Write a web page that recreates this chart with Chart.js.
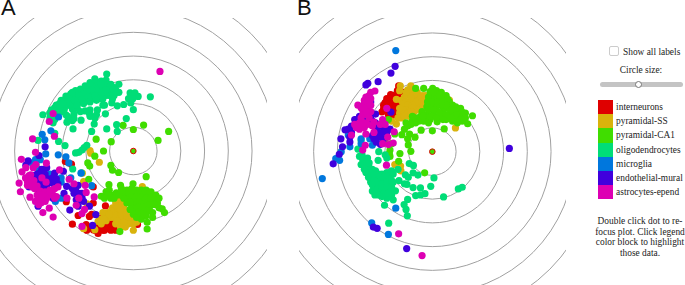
<!DOCTYPE html>
<html>
<head>
<meta charset="utf-8">
<script src="https://cdn.jsdelivr.net/npm/chart.js@4"></script>
<style>
body { margin: 0; width: 685px; height: 285px; overflow: hidden; background: #fff; position: relative; font-family: "Liberation Serif", serif; font-size: 9.4px; color: #222; }
canvas { position: absolute; top: 18px; }
#chartA { left: 0; }
#chartB { left: 299px; }
.panel { position: absolute; top: -5px; font: 22px "Liberation Sans", sans-serif; color: #111; }
#showBox { position: absolute; left: 609px; top: 46px; width: 8px; height: 8px; border: 1px solid #ccc; border-radius: 2px; background: #fff; }
#showLabel { position: absolute; left: 623px; top: 47px; white-space: nowrap; }
#sizeLabel { position: absolute; left: 598px; width: 86px; top: 65px; text-align: center; }
#track { position: absolute; left: 600px; top: 82px; width: 83px; height: 5px; background: #c4c4c4; border-radius: 3px; }
#thumb { position: absolute; left: 635px; top: 81px; width: 5px; height: 5px; background: #fff; border: 1px solid #777; border-radius: 50%; }
#legend { position: absolute; left: 598px; top: 100px; }
.row { height: 14.2px; display: flex; align-items: center; white-space: nowrap; }
.swatch { width: 14.6px; height: 14.2px; margin-right: 3.5px; }
#note { position: absolute; left: 590px; width: 100px; top: 216px; line-height: 10.6px; text-align: center; white-space: nowrap; }
</style>
</head>
<body>
<div class="panel" style="left:1px">A</div>
<div class="panel" style="left:297px">B</div>
<canvas id="chartA" width="267" height="267"></canvas>
<canvas id="chartB" width="267" height="267"></canvas>
<div id="showBox"></div>
<div id="showLabel">Show all labels</div>
<div id="sizeLabel">Circle size:</div>
<div id="track"></div>
<div id="thumb"></div>
<div id="legend"></div>
<div id="note">Double click dot to re-<br>focus plot. Click legend<br>color block to highlight<br>those data.</div>
<script>
let categories = ['interneurons', 'pyramidal-SS', 'pyramidal-CA1', 'oligodendrocytes', 'microglia', 'endothelial-mural', 'astrocytes-epend'];
let colors = ['#df0000', '#d9b30c', '#40dd00', '#00dd77', '#0077dd', '#4000dd', '#dd00b3'];
let ringRadii = [74, 148, 222, 296, 370, 444, 518];

// values are [x, y], three units to a pixel
let focusA = [[400, 453]];
let interneuronsA = [[188,486],[207,494],[275,565],[275,615],[313,624],[191,611],[228,654],[263,657],[270,650],[210,681],[253,682],[255,700],[290,710],[413,682],[310,690],[325,680],[335,670],[320,695],[300,695],[285,690],[330,690],[345,690],[325,655],[340,650],[330,700],[270,690],[280,700],[295,680],[305,700],[315,685],[330,675],[345,670],[310,700],[275,698],[265,690],[300,662],[320,665],[345,700]];
let pyramidalSSA = [[265,452],[267,460],[294,488],[241,522],[245,548],[428,564],[471,607],[256,618],[352,600],[360,610],[345,615],[335,630],[320,645],[310,655],[290,672],[300,680],[280,698],[355,625],[370,630],[385,640],[395,655],[405,665],[345,640],[360,645],[375,650],[350,660],[365,665],[385,670],[345,680],[375,690],[400,700],[245,695],[330,660],[355,680],[315,670],[340,660],[355,650],[350,670],[365,655],[380,660],[395,665],[410,675],[400,680],[385,680],[370,675],[360,690],[350,625],[365,620],[375,640],[395,645],[340,650],[330,640],[305,645],[295,665],[310,665],[325,650],[360,635]];
let pyramidalCA1A = [[368,373],[400,386],[432,372],[510,392],[477,420],[284,416],[331,424],[307,453],[280,469],[258,490],[264,500],[330,498],[335,513],[354,520],[440,533],[261,541],[324,558],[399,555],[360,560],[363,570],[300,594],[315,580],[325,575],[340,590],[330,600],[347,583],[380,575],[395,570],[410,575],[425,575],[440,575],[455,580],[470,590],[480,600],[375,590],[390,590],[405,590],[420,590],[435,590],[450,595],[465,605],[475,615],[385,605],[400,605],[415,605],[430,605],[445,610],[460,620],[395,620],[410,620],[425,620],[440,625],[450,635],[405,635],[420,635],[435,640],[430,655],[415,650],[460,645],[460,660],[490,633],[497,645],[480,630],[443,675],[443,696],[358,704],[400,650],[370,600],[365,580],[380,615],[390,635],[410,660],[425,665],[440,655],[455,610],[468,620],[445,580],[430,580],[415,582],[400,582],[385,582],[395,597],[410,597],[425,597],[440,600],[455,600],[405,612],[420,612],[435,615],[450,620],[390,612],[415,628],[430,628],[445,640],[418,642],[432,648],[340,600],[355,590],[320,590],[310,600]];
let oligodendrocytesA = [[317,213],[283,235],[295,240],[315,232],[320,245],[355,245],[340,255],[345,270],[330,265],[310,255],[300,260],[285,250],[270,250],[275,265],[290,270],[260,258],[250,262],[240,265],[255,280],[240,280],[225,275],[230,290],[215,285],[205,290],[190,282],[200,300],[185,300],[215,305],[170,305],[165,318],[180,315],[195,310],[155,318],[145,325],[140,335],[118,340],[235,300],[250,295],[270,290],[285,285],[300,280],[315,270],[325,280],[270,275],[355,270],[340,280],[390,272],[405,272],[415,283],[385,290],[398,290],[392,303],[453,284],[333,303],[310,310],[305,310],[350,312],[370,308],[400,324],[288,325],[313,337],[285,340],[265,345],[263,335],[250,328],[235,330],[225,320],[210,322],[215,352],[210,358],[237,357],[193,363],[150,365],[155,355],[140,350],[212,384],[378,352],[348,371],[350,392],[317,384],[278,369],[270,392],[103,420],[155,398],[167,423],[187,436],[220,459],[230,457],[240,450],[247,442],[255,435],[211,509],[238,521],[180,330],[190,340],[165,330],[160,310],[175,295],[190,295],[205,275],[220,265],[235,260],[250,250],[265,240],[280,228],[300,235],[305,250],[330,245],[335,260],[320,258],[300,270],[285,262],[270,262],[255,268],[245,275],[230,280],[215,295],[200,310],[185,322],[170,320],[150,335],[225,300],[240,292],[260,285],[280,280],[295,290],[315,280],[300,245],[315,262],[345,262],[210,270],[195,290],[180,305],[160,328],[225,310],[245,305],[265,300],[285,295],[305,290],[335,290],[265,325],[280,350],[215,338],[195,345]];
let microgliaA = [[167,347],[143,390],[116,401],[124,418],[127,462],[166,465],[190,471],[199,490],[110,480],[95,480],[85,490],[105,510],[140,525],[175,537],[175,550],[205,537],[270,561],[175,600],[157,610],[237,522]];
let endothelialA = [[125,440],[106,467],[72,484],[65,497],[130,505],[115,510],[110,520],[120,530],[105,530],[105,545],[100,555],[115,555],[130,560],[75,565],[85,560],[155,522],[182,516],[150,535],[160,540],[145,552],[165,555],[155,560],[192,563],[228,560],[210,570],[220,575],[232,585],[240,598],[222,605],[235,605],[184,585],[103,625],[202,637],[228,625],[283,651],[273,685],[263,625],[150,600],[100,525],[125,525],[95,540],[90,530],[125,545],[135,540],[75,555],[100,570],[120,565],[215,585],[245,610],[240,585]];
let astrocytesA = [[483,205],[150,336],[138,361],[154,407],[86,415],[95,457],[51,479],[129,491],[96,495],[88,505],[65,505],[53,518],[80,527],[64,537],[75,530],[44,553],[48,580],[70,548],[70,560],[85,550],[90,545],[100,562],[92,570],[110,578],[125,580],[128,550],[115,537],[135,590],[150,590],[160,595],[165,565],[155,570],[170,512],[200,541],[215,555],[250,560],[253,582],[278,596],[193,600],[78,597],[95,610],[105,605],[112,615],[120,605],[110,600],[125,610],[138,631],[118,645],[150,659],[222,622],[240,648],[248,635],[240,688],[230,600],[100,590],[120,592],[140,575],[85,565],[155,600],[130,600],[105,620],[115,590]];

let focusB = [[427, 455]];
let interneuronsB = [[322,250],[318,265],[297,277],[285,290],[300,295],[275,310],[290,310],[305,310],[315,315],[285,325],[270,331],[300,330],[312,335],[322,300],[320,325],[290,340],[300,345],[305,280],[330,268],[310,285],[295,300],[280,302],[310,325],[295,320],[320,285],[305,295],[325,310],[275,322]];
let pyramidalSSB = [[499,381],[480,294],[310,495],[328,500],[329,515],[272,370],[315,369],[277,420],[315,292],[327,250],[360,250],[350,262],[365,265],[380,270],[395,280],[405,295],[400,310],[385,300],[370,285],[355,280],[340,285],[330,295],[345,300],[360,300],[375,315],[390,315],[340,315],[355,320],[370,330],[325,335],[340,335],[330,350],[320,350],[355,345],[325,265],[300,360],[375,275],[390,290],[375,300],[360,285],[345,270],[335,305],[350,310],[365,310],[380,325],[395,300],[345,325],[335,325],[350,335],[365,320],[325,320],[340,345],[360,330],[405,280]];
let pyramidalCA1B = [[375,258],[400,258],[428,258],[440,265],[455,270],[470,280],[440,280],[425,275],[415,285],[430,295],[450,290],[465,300],[480,300],[490,310],[500,315],[515,320],[530,335],[552,343],[520,345],[537,368],[510,350],[495,335],[475,320],[460,315],[445,310],[425,310],[410,315],[440,325],[460,330],[480,340],[500,355],[520,360],[410,340],[390,345],[375,350],[365,360],[350,375],[340,385],[430,340],[450,345],[470,355],[490,360],[400,360],[360,370],[420,355],[442,362],[392,388],[427,390],[464,384],[332,402],[356,400],[373,410],[350,415],[352,434],[360,454],[326,461],[295,450],[300,430],[322,485],[310,400],[403,521],[295,470],[293,460],[280,415],[290,355],[420,268],[435,270],[450,278],[462,288],[475,292],[490,320],[505,330],[520,332],[530,350],[515,355],[500,340],[485,325],[470,310],[455,300],[440,300],[425,300],[412,300],[415,325],[430,325],[450,335],[470,340],[485,350],[505,365],[395,330],[410,350],[425,345],[385,360],[375,365],[440,350],[460,355],[415,365],[398,345],[345,365],[365,345]];
let oligodendrocytesB = [[291,678],[462,596],[508,571],[520,566],[422,563],[390,568],[404,586],[390,590],[375,592],[367,567],[348,557],[340,555],[352,535],[343,527],[367,521],[382,528],[432,537],[355,492],[368,498],[320,510],[323,545],[305,550],[350,604],[339,620],[345,635],[349,655],[278,622],[195,447],[205,420],[260,455],[258,482],[280,465],[285,475],[200,470],[210,480],[205,495],[220,490],[215,510],[230,505],[220,520],[235,525],[250,515],[240,535],[255,535],[270,525],[285,520],[300,515],[235,550],[250,550],[265,545],[280,540],[295,535],[245,565],[260,565],[275,560],[290,555],[250,580],[265,580],[280,575],[295,575],[312,577],[300,590],[285,600],[305,605],[248,590],[240,578],[270,595],[208,465],[225,475],[215,495],[230,490],[240,510],[228,535],[245,525],[260,525],[275,535],[290,530],[245,545],[258,555],[270,555],[285,550],[240,558],[255,572],[270,570],[285,565],[300,565],[275,585],[290,585],[260,590],[305,525],[300,545]];
let microgliaB = [[313,140],[84,539],[238,677],[290,713],[313,631],[126,477],[138,482],[143,455],[170,440],[165,403],[205,415],[232,415],[240,435],[205,430],[250,395],[175,400]];
let endothelialB = [[667,445],[311,189],[298,210],[258,237],[226,242],[220,247],[118,493],[137,463],[147,440],[142,415],[155,387],[165,385],[175,375],[185,355],[200,345],[170,410],[170,425],[250,338],[298,332],[235,300],[225,360],[240,360],[255,380],[270,375],[295,385],[250,400],[245,415],[260,410],[270,395],[285,395],[265,432],[252,425],[347,757],[243,690],[255,694],[175,395],[190,355],[210,355],[235,350],[250,365],[280,385],[255,395],[240,405],[275,415]];
let astrocytesB = [[322,711],[395,779],[284,497],[210,450],[218,435],[175,403],[220,400],[272,430],[290,433],[305,428],[288,410],[308,393],[285,320],[272,355],[245,363],[240,375],[245,395],[210,375],[195,375],[185,370],[200,385],[215,365],[205,350],[225,340],[210,325],[195,310],[215,305],[225,320],[235,310],[220,285],[235,270],[248,266],[235,290],[225,300],[210,340],[235,330],[280,370],[265,370],[215,295],[230,280],[205,318],[220,330],[200,365],[215,380],[230,350],[225,370],[190,380]];

let seriesA = [interneuronsA, pyramidalSSA, pyramidalCA1A, oligodendrocytesA, microgliaA, endothelialA, astrocytesA];
let seriesB = [interneuronsB, pyramidalSSB, pyramidalCA1B, oligodendrocytesB, microgliaB, endothelialB, astrocytesB];

// rings around the focused dot, radii go through the x scale
let ringsPlugin = {
    id: 'rings',
    beforeDatasetsDraw(chart, args, opts) {
        let ctx = chart.ctx;
        let xs = chart.scales.x;
        let ys = chart.scales.y;
        let cx = xs.getPixelForValue(opts.center[0]);
        let cy = ys.getPixelForValue(opts.center[1]);
        ctx.save();
        ctx.beginPath();
        ctx.rect(0, 0, chart.width, chart.height);
        ctx.clip();
        ctx.strokeStyle = '#a0a0a0';
        ctx.lineWidth = 1;
        ringRadii.forEach(r => {
            let rPx = xs.getPixelForValue(opts.center[0] + r) - cx;
            ctx.beginPath();
            ctx.arc(cx, cy, rPx, 0, Math.PI * 2);
            ctx.stroke();
        });
        ctx.restore();
    }
};

function drawPanel(id, series, focus, xMin) {
    let datasets = series.map((points, i) => ({
        label: categories[i],
        data: points.map(p => ({ x: p[0], y: p[1] })),
        backgroundColor: colors[i],
        borderWidth: 0,
        pointRadius: 3.6,
        order: categories.length - i + 1
    }));
    datasets.push({
        label: 'focus',
        data: focus.map(p => ({ x: p[0], y: p[1] })),
        backgroundColor: colors[2],
        borderColor: colors[0],
        borderWidth: 1,
        pointRadius: 2.8,
        order: 0
    });
    new Chart(document.getElementById(id), {
        type: 'scatter',
        data: { datasets: datasets },
        options: {
            responsive: false,
            animation: false,
            layout: { padding: 0 },
            plugins: {
                legend: { display: false },
                tooltip: { enabled: false },
                rings: { center: focus[0] }
            },
            scales: {
                x: { display: false, min: xMin, max: xMin + 801 },
                y: { display: false, min: 54, max: 855, reverse: true }
            }
        },
        plugins: [ringsPlugin]
    });
}

drawPanel('chartA', seriesA, focusA, 0);
drawPanel('chartB', seriesB, focusB, 27);

let legendElement = document.getElementById('legend');
categories.forEach((name, i) => {
    let row = document.createElement('div');
    row.className = 'row';
    let swatch = document.createElement('div');
    swatch.className = 'swatch';
    swatch.style.background = colors[i];
    row.appendChild(swatch);
    row.appendChild(document.createTextNode(name));
    legendElement.appendChild(row);
});
</script>
</body>
</html>
